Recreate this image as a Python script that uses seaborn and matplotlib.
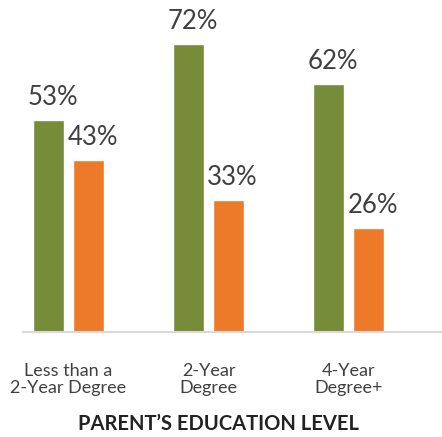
import pandas as pd
import matplotlib.pyplot as plt
import seaborn as sns

# Data
categories = ['Less than a\n2-Year Degree', '2-Year\nDegree', '4-Year\nDegree+']
series_a = [53, 72, 62]
series_b = [43, 33, 26]

df = pd.DataFrame({
    'Education': categories * 2,
    'Series': ['A'] * 3 + ['B'] * 3,
    'Value': series_a + series_b,
})

sns.set_style('white')
plt.rcParams['font.family'] = ['Lato', 'DejaVu Sans']

fig = plt.figure(figsize=(4.42, 4.37), dpi=100)
ax = fig.add_axes([23 / 442, 1 - 332 / 437, 419 / 442, 332 / 437])

sns.barplot(data=df, x='Education', y='Value', hue='Series',
            palette=['#778C38', '#EC7A28'], saturation=1,
            width=0.571, gap=0.225, legend=False, ax=ax)

for container in ax.containers:
    for bar in container:
        h = bar.get_height()
        ax.annotate(f'{h:.0f}%', (bar.get_x() + bar.get_width() / 2, h),
                    xytext=(3, 7), textcoords='offset points',
                    ha='center', va='bottom', fontsize=18.5,
                    color='#404040')

ax.set_xlim(-0.325, 2.668)
ax.set_ylim(0, 83)
ax.set_yticks([])
ax.set_ylabel('')
ax.set_xlabel('')
for side in ['top', 'left', 'right']:
    ax.spines[side].set_visible(False)
ax.spines['bottom'].set_color('#d9d9d9')
ax.spines['bottom'].set_linewidth(1.5)
ax.tick_params(axis='x', length=0, pad=22, labelsize=13, labelcolor='#404040')
for lbl in ax.get_xticklabels():
    lbl.set_linespacing(1.1)

fig.text(0.495, 0.008, 'PARENT\u2019S EDUCATION LEVEL', ha='center', va='bottom',
         fontsize=14.5, fontweight='bold', color='#222222')

fig.savefig('out.png', dpi=100)
